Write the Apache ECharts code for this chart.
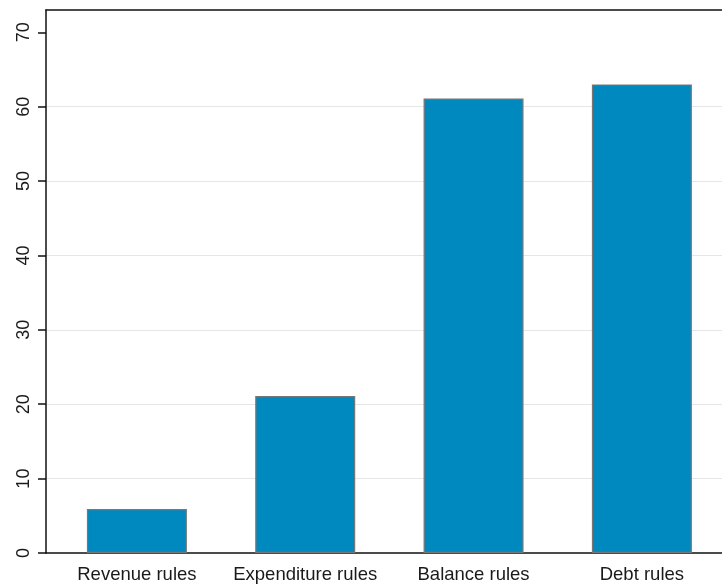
<!DOCTYPE html>
<html>
<head>
<meta charset="utf-8">
<script src="https://cdn.jsdelivr.net/npm/echarts@6/dist/echarts.min.js"></script>
<style>
  html, body { margin: 0; padding: 0; background: #fff; }
  #chart { width: 722px; height: 585px; }
</style>
</head>
<body>
<div id="chart"></div>
<script>
// Fiscal rule types and their shares
const categories = ['Revenue rules', 'Expenditure rules', 'Balance rules', 'Debt rules'];
const shares = [5.9, 21.1, 61.1, 63.0];
const yTicks = [0, 10, 20, 30, 40, 50, 60, 70];

const positions = categories.map((_, i) => i);
const barData = shares.map((v, i) => [positions[i], v]);

// grid lines at interior ticks only (0 is the axis, 70 is left clean)
const gridColors = yTicks.map(t => (t === 0 || t === 70) ? 'rgba(0,0,0,0)' : '#e6e6e6');

const xMin = -0.54;
const xMax = 3.476;
const frameLine = { color: '#111', width: 1.5 };

const chart = echarts.init(document.getElementById('chart'), null, { renderer: 'canvas' });
chart.setOption({
  animation: false,
  backgroundColor: '#ffffff',
  grid: { left: 46, right: 0, top: 10, bottom: 32 },
  xAxis: [{
    type: 'value',
    min: xMin,
    max: xMax,
    axisLine: { show: true, onZero: false, lineStyle: frameLine },
    axisTick: { show: false },
    splitLine: { show: false },
    axisLabel: {
      customValues: positions,
      formatter: v => categories[Math.round(v)] || '',
      fontFamily: 'Liberation Sans, Arial, sans-serif',
      fontSize: 18.5,
      color: '#1a1a1a',
      margin: 12
    }
  }, {
    // top edge of the plot frame
    type: 'value',
    position: 'top',
    min: xMin,
    max: xMax,
    axisLine: { show: true, onZero: false, lineStyle: frameLine },
    axisTick: { show: false },
    axisLabel: { show: false },
    splitLine: { show: false }
  }],
  yAxis: {
    type: 'value',
    min: 0,
    max: 73,
    interval: 10,
    axisLine: { show: true, onZero: false, lineStyle: frameLine },
    axisTick: { show: true, customValues: yTicks, length: 8, lineStyle: frameLine },
    splitLine: { show: true, lineStyle: { color: gridColors, width: 1 } },
    axisLabel: {
      customValues: yTicks,
      rotate: 90,
      fontFamily: 'Liberation Sans, Arial, sans-serif',
      fontSize: 18,
      color: '#1a1a1a',
      margin: 13
    }
  },
  series: [{
    type: 'bar',
    xAxisIndex: 0,
    data: barData,
    barWidth: 100,
    itemStyle: { color: '#0089bf', borderColor: '#777777', borderWidth: 1.2 }
  }]
});
</script>
</body>
</html>
